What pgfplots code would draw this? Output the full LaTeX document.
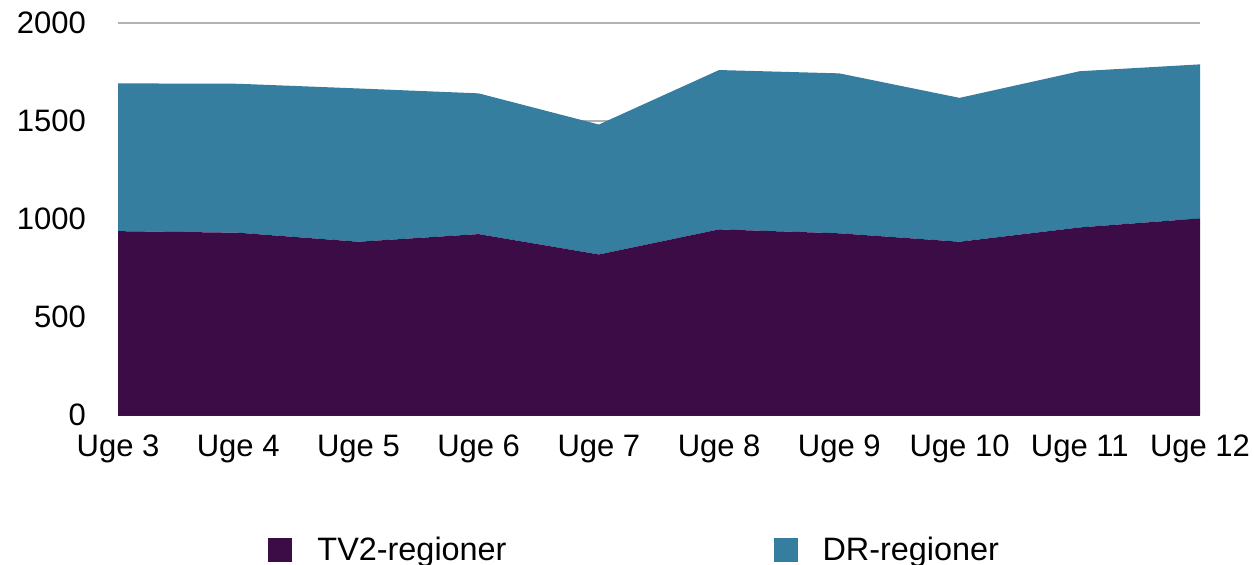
\documentclass[border=0pt]{standalone}
\usepackage{pgfplots}
\pgfplotsset{compat=1.18}
\usepackage{fontspec}
\setmainfont{Liberation Sans}
\definecolor{tvtwo}{RGB}{60,12,71}
\definecolor{dr}{RGB}{54,126,160}
\definecolor{gridgray}{RGB}{178,178,178}
\begin{document}
\begin{tikzpicture}
\useasboundingbox (-59bp,-75bp) rectangle (568bp,207.5bp);
\begin{axis}[
  at={(0,0)}, anchor=south west,
  width=541bp, height=196bp, scale only axis,
  xmin=0, xmax=9, ymin=0, ymax=2000,
  xtick={0,...,9},
  xticklabels={Uge 3,Uge 4,Uge 5,Uge 6,Uge 7,Uge 8,Uge 9,Uge 10,Uge 11,Uge 12},
  ytick={0,500,1000,1500,2000},
  ymajorgrids, grid style={gridgray, line width=0.8bp},
  axis x line*=bottom, axis y line*=left,
  x axis line style={draw=black!85, line width=0.6bp, -},
  y axis line style={draw=none},
  major tick length=0pt,
  tick label style={font=\fontsize{15.5bp}{18bp}\selectfont},
  /pgf/number format/assume math mode=true,
  /pgf/number format/1000 sep={},
  yticklabel style={xshift=-12.5bp},
  xticklabel style={yshift=-6.5bp},
  stack plots=y,
  legend columns=2,
  legend style={at={(0.4785,-0.344)}, anchor=center, draw=none, fill=none,
    font=\fontsize{16.2bp}{19bp}\selectfont,
    /tikz/every even column/.append style={column sep=131.5bp}},
  legend image code/.code={\fill[#1] (0bp,-6bp) rectangle (12bp,6bp); \path[draw=none,fill=none] (0bp,0bp) -- (22.5bp,0bp);},
]
\addplot[fill=tvtwo, draw=none] coordinates {
(0,938) (1,930) (2,884) (3,923) (4,819) (5,947) (6,927) (7,884) (8,957) (9,1003)
} \closedcycle;
\addlegendentry{TV2-regioner}
\addplot[fill=dr, draw=none] coordinates {
(0,754) (1,760) (2,782) (3,718) (4,663) (5,813) (6,816) (7,734) (8,797) (9,786)
} \closedcycle;
\addlegendentry{DR-regioner}
\end{axis}
\end{tikzpicture}
\end{document}
